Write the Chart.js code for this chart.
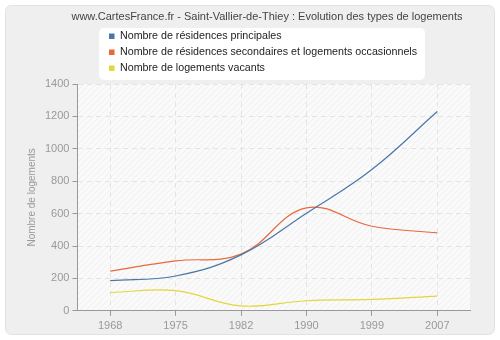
<!DOCTYPE html>
<html>
<head>
<meta charset="utf-8">
<script src="https://cdn.jsdelivr.net/npm/chart.js@4/dist/chart.umd.min.js"></script>
<style>
  html, body { margin: 0; padding: 0; background: #fff; }
  #wrap { width: 500px; height: 340px; }
</style>
</head>
<body>
<div id="wrap"><canvas id="myChart" width="500" height="340"></canvas></div>
<script>
const titre = 'www.CartesFrance.fr - Saint-Vallier-de-Thiey : Evolution des types de logements'
const annees = ['1968', '1975', '1982', '1990', '1999', '2007']
const principales = [186, 215, 345, 602, 872, 1230]
const secondaires = [245, 308, 350, 635, 522, 481]
const vacants = [113, 124, 30, 62, 70, 91]
const yTicks = [0, 200, 400, 600, 800, 1000, 1200, 1400]

const couleurs = ['#4a77aa', '#e8693c', '#e2d63c']
const police = '"Liberation Sans", Arial, sans-serif'

// motif hachuré du fond de la zone de tracé
const motif = document.createElement('canvas')
motif.width = 6
motif.height = 6
const m = motif.getContext('2d')
m.fillStyle = '#fafafa'
m.fillRect(0, 0, 6, 6)
m.strokeStyle = '#efefef'
m.lineWidth = 1
m.beginPath()
m.moveTo(0, 6); m.lineTo(6, 0)
m.moveTo(-1, 1); m.lineTo(1, -1)
m.moveTo(5, 7); m.lineTo(7, 5)
m.stroke()

function roundRect(c, x, y, w, h, r) {
    c.beginPath()
    c.moveTo(x + r, y)
    c.arcTo(x + w, y, x + w, y + h, r)
    c.arcTo(x + w, y + h, x, y + h, r)
    c.arcTo(x, y + h, x, y, r)
    c.arcTo(x, y, x + w, y, r)
    c.closePath()
}

const fond = {
    id: 'fond',
    beforeDraw(chart) {
        const c = chart.ctx
        const a = chart.chartArea
        c.save()
        c.fillStyle = '#ffffff'
        c.fillRect(0, 0, chart.width, chart.height)
        roundRect(c, 5.5, 5.5, 489, 329, 6)
        c.fillStyle = '#efefef'
        c.fill()
        c.strokeStyle = '#e2e2e2'
        c.lineWidth = 1
        c.stroke()
        c.fillStyle = c.createPattern(motif, 'repeat')
        c.fillRect(a.left, a.top, a.right - a.left, a.bottom - a.top)

        // titre
        c.fillStyle = '#444'
        c.font = '11px ' + police
        c.textAlign = 'center'
        c.textBaseline = 'middle'
        c.fillText(titre, 267, 17)

        // légende
        roundRect(c, 99, 28, 326, 52, 5)
        c.fillStyle = '#ffffff'
        c.fill()
        c.font = '10.7px ' + police
        c.textAlign = 'left'
        chart.data.datasets.forEach((ds, i) => {
            const y = 36 + i * 16
            c.fillStyle = couleurs[i]
            c.fillRect(109, y - 2.5, 5.5, 5.5)
            c.fillStyle = '#222'
            c.fillText(ds.label, 120, y + 0.5)
        })
        c.restore()
    }
}

const ctx = document.getElementById('myChart')

new Chart(ctx, {
    type: 'line',
    data: {
        labels: annees,
        datasets: [{
            label: 'Nombre de résidences principales',
            data: principales,
            borderColor: couleurs[0]
        }, {
            label: 'Nombre de résidences secondaires et logements occasionnels',
            data: secondaires,
            borderColor: couleurs[1]
        }, {
            label: 'Nombre de logements vacants',
            data: vacants,
            borderColor: couleurs[2]
        }]
    },
    options: {
        responsive: false,
        animation: false,
        devicePixelRatio: 1,
        elements: {
            line: { tension: 0.4, borderWidth: 1.2, fill: false },
            point: { radius: 0 }
        },
        layout: { padding: { top: 84, left: 26, right: 30, bottom: 3 } },
        plugins: {
            legend: { display: false },
            title: { display: false },
            tooltip: { enabled: false }
        },
        scales: {
            x: {
                offset: true,
                grid: {
                    color: '#e4e4e4',
                    tickColor: '#999',
                    tickBorderDash: [],
                    tickLength: 5
                },
                border: { color: '#999', width: 1, dash: [5, 4] },
                ticks: { color: '#999', font: { family: police, size: 11 }, padding: 4 }
            },
            y: {
                min: 0,
                max: 1400,
                afterBuildTicks: axis => { axis.ticks = yTicks.map(v => ({ value: v })) },
                grid: {
                    color: '#e4e4e4',
                    tickColor: '#999',
                    tickBorderDash: [],
                    tickLength: 5
                },
                border: { color: '#999', width: 1, dash: [5, 4] },
                ticks: {
                    color: '#999',
                    font: { family: police, size: 11 },
                    padding: 3,
                    callback: v => String(v)
                },
                title: {
                    display: true,
                    text: 'Nombre de logements',
                    color: '#999',
                    font: { family: police, size: 10 },
                    padding: { top: 0, bottom: 4 }
                }
            }
        }
    },
    plugins: [fond]
})
</script>
</body>
</html>
